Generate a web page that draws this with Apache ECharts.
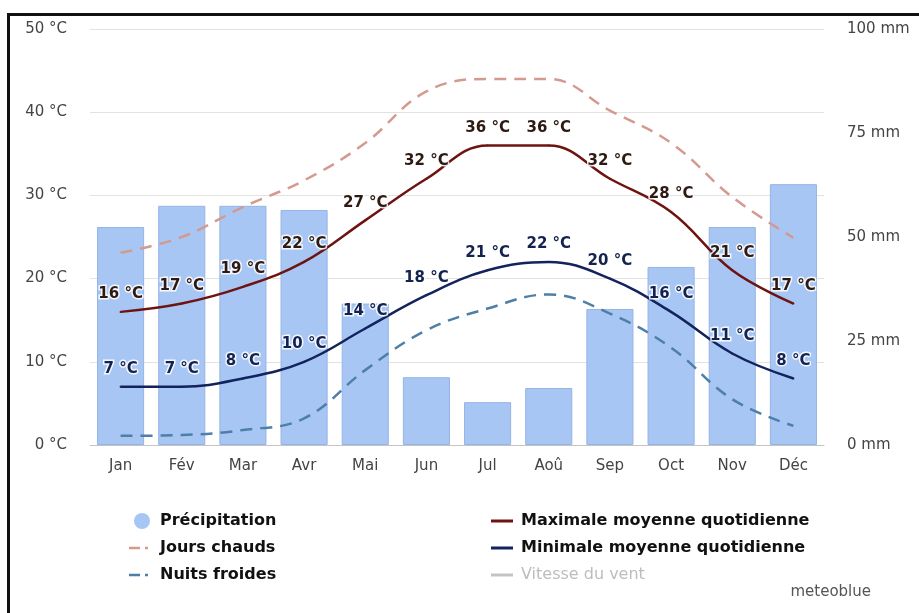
<!DOCTYPE html>
<html>
<head>
<meta charset="utf-8">
<script src="https://cdn.jsdelivr.net/npm/echarts@6/dist/echarts.min.js"></script>
<style>
  html, body { margin: 0; padding: 0; background: #fff; }
  #chart { width: 919px; height: 613px; }
</style>
</head>
<body>
<div id="chart"></div>
<script>
// mois
var months = ['Jan', 'Fév', 'Mar', 'Avr', 'Mai', 'Jun', 'Jul', 'Aoû', 'Sep', 'Oct', 'Nov', 'Déc'];
// précipitation (mm)
var precip = [52.4, 57.5, 57.5, 56.5, 34, 16.3, 10.3, 13.7, 32.7, 42.8, 52.4, 62.7];
// températures (°C)
var tMax = [16, 17, 19, 22, 27, 32, 36, 36, 32, 28, 21, 17];
var tMin = [7, 7, 8, 10, 14, 18, 21, 22, 20, 16, 11, 8];
var joursChauds = [23.1, 25, 28.6, 31.8, 36.3, 42.5, 44, 44, 40.2, 36.3, 29.8, 24.9];
var nuitsFroides = [1.1, 1.2, 1.8, 3.2, 9, 13.8, 16.4, 18.1, 15.8, 11.7, 5.5, 2.3];
// graduations
var tempTicks = [0, 50, 10];
var mmTicks = [0, 100, 25];

var FONT = 'DejaVu Sans';
var chart = echarts.init(document.getElementById('chart'));

var lineIcon = 'path://M0,0M26,16M1,6.5h22v3h-22z';
var dashDotIcon = 'path://M0,0M26,16M0,6.8h11v2.4h-11zM16,6.8h3v2.4h-3z';

function lineLabel(color) {
    return {
        show: true,
        position: 'top',
        distance: 9,
        formatter: '{c} °C',
        color: color,
        fontFamily: FONT,
        fontSize: 15,
        fontWeight: 'bold',
        textBorderColor: 'rgba(255,255,255,0.85)',
        textBorderWidth: 3
    };
}

var option = {
    animation: false,
    backgroundColor: '#fff',
    textStyle: { fontFamily: FONT },
    grid: { left: 90, right: 95, top: 29, bottom: 168, containLabel: false },
    xAxis: {
        type: 'category',
        data: months,
        axisTick: { show: false },
        axisLine: { lineStyle: { color: '#c4c4c4', width: 1 } },
        axisLabel: { color: '#444', fontSize: 15, margin: 14, fontFamily: FONT }
    },
    yAxis: [{
        type: 'value',
        min: tempTicks[0], max: tempTicks[1], interval: tempTicks[2],
        axisLabel: { formatter: '{value} °C', color: '#444', fontSize: 15, margin: 23, fontFamily: FONT },
        splitLine: { lineStyle: { color: '#e2e2e2', width: 1 } },
        axisLine: { show: false },
        axisTick: { show: false }
    }, {
        type: 'value',
        min: mmTicks[0], max: mmTicks[1], interval: mmTicks[2],
        position: 'right',
        axisLabel: { formatter: '{value} mm', color: '#444', fontSize: 15, margin: 23, fontFamily: FONT },
        splitLine: { show: false },
        axisLine: { show: false },
        axisTick: { show: false }
    }],
    legend: [{
        orient: 'vertical',
        left: 124,
        top: 508,
        itemWidth: 26,
        itemHeight: 16,
        itemGap: 11,
        selectedMode: false,
        textStyle: { fontFamily: FONT, fontSize: 16, fontWeight: 'bold', color: '#111' },
        data: [
            { name: 'Précipitation', icon: 'circle', itemStyle: { color: '#a8c6f4', borderWidth: 0 } },
            { name: 'Jours chauds', icon: dashDotIcon, itemStyle: { color: '#d49a90' } },
            { name: 'Nuits froides', icon: dashDotIcon, itemStyle: { color: '#4d7fa8' } }
        ]
    }, {
        orient: 'vertical',
        left: 485,
        top: 508,
        itemWidth: 26,
        itemHeight: 16,
        itemGap: 11,
        selectedMode: false,
        textStyle: { fontFamily: FONT, fontSize: 16, fontWeight: 'bold', color: '#111' },
        data: [
            { name: 'Maximale moyenne quotidienne', icon: lineIcon, itemStyle: { color: '#6e1410' } },
            { name: 'Minimale moyenne quotidienne', icon: lineIcon, itemStyle: { color: '#13235e' } },
            { name: 'Vitesse du vent', icon: lineIcon, itemStyle: { color: '#c4c4c4' }, textStyle: { color: '#bdbdbd', fontWeight: 'normal' } }
        ]
    }],
    graphic: [
        { type: 'line', shape: { x1: 8.5, y1: 13, x2: 8.5, y2: 613 }, style: { stroke: '#111', lineWidth: 3 } },
        { type: 'line', shape: { x1: 7, y1: 14.5, x2: 919, y2: 14.5 }, style: { stroke: '#111', lineWidth: 3 } },
        { type: 'text', right: 48, top: 585, style: { text: 'meteoblue', fill: '#555', font: '15px ' + FONT } }
    ],
    series: [{
        name: 'Précipitation',
        type: 'bar',
        yAxisIndex: 1,
        data: precip,
        barWidth: '77%',
        itemStyle: { color: '#a8c6f4', borderColor: '#95b4e4', borderWidth: 1 },
        z: 1
    }, {
        name: 'Jours chauds',
        type: 'line',
        data: joursChauds,
        smooth: 0.4,
        symbol: 'none',
        lineStyle: { color: '#d49a90', width: 2.5, type: [12, 8] },
        itemStyle: { color: '#d49a90' },
        z: 3
    }, {
        name: 'Nuits froides',
        type: 'line',
        data: nuitsFroides,
        smooth: 0.4,
        symbol: 'none',
        lineStyle: { color: '#4d7fa8', width: 2.5, type: [12, 8] },
        itemStyle: { color: '#4d7fa8' },
        z: 3
    }, {
        name: 'Maximale moyenne quotidienne',
        type: 'line',
        data: tMax,
        smooth: 0.4,
        symbol: 'circle',
        symbolSize: 2,
        showSymbol: true,
        lineStyle: { color: '#6e1410', width: 2.5 },
        itemStyle: { color: '#6e1410' },
        label: lineLabel('#2e1a12'),
        z: 4
    }, {
        name: 'Minimale moyenne quotidienne',
        type: 'line',
        data: tMin,
        smooth: 0.4,
        symbol: 'circle',
        symbolSize: 2,
        showSymbol: true,
        lineStyle: { color: '#13235e', width: 2.5 },
        itemStyle: { color: '#13235e' },
        label: lineLabel('#14224f'),
        z: 4
    }, {
        name: 'Vitesse du vent',
        type: 'line',
        data: [],
        symbol: 'none',
        lineStyle: { color: '#c4c4c4' },
        itemStyle: { color: '#c4c4c4' }
    }]
};

chart.setOption(option);
</script>
</body>
</html>
